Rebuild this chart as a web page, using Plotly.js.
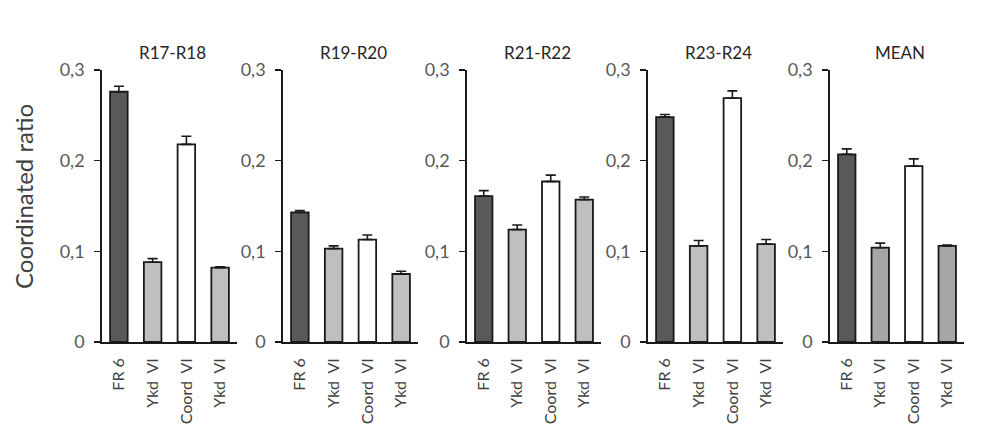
<!DOCTYPE html>
<html>
<head>
<meta charset="utf-8">
<script src="https://cdn.plot.ly/plotly-3.0.1.min.js"></script>
<style>html,body{margin:0;padding:0;background:#fff;}#chart{width:984px;height:448px;}</style>
</head>
<body>
<div id="chart"></div>
<script>
// ---- data ----
const panelTitles = ['R17-R18', 'R19-R20', 'R21-R22', 'R23-R24', 'MEAN'];
const categories = ['FR 6', 'Ykd\u00a0\u00a0VI', 'Coord\u00a0\u00a0VI', 'Ykd\u00a0\u00a0VI'];
const yTickValues = [0, 0.1, 0.2, 0.3];
const yTickLabels = ['0', '0,1', '0,2', '0,3'];
const yTitle = 'Coordinated ratio';

const r17r18 = [0.276, 0.088, 0.218, 0.082];
const r17r18Err = [0.006, 0.004, 0.009, 0.001];
const r19r20 = [0.143, 0.103, 0.113, 0.075];
const r19r20Err = [0.002, 0.003, 0.005, 0.003];
const r21r22 = [0.161, 0.124, 0.177, 0.157];
const r21r22Err = [0.006, 0.005, 0.007, 0.003];
const r23r24 = [0.248, 0.106, 0.269, 0.108];
const r23r24Err = [0.003, 0.006, 0.008, 0.005];
const meanVals = [0.207, 0.104, 0.194, 0.106];
const meanErr = [0.006, 0.005, 0.008, 0.001];

const series = [r17r18, r19r20, r21r22, r23r24, meanVals];
const errors = [r17r18Err, r19r20Err, r21r22Err, r23r24Err, meanErr];

// ---- styles ----
const W = 984, H = 448;
const panelPx = [[102, 237], [283, 418], [467, 601], [648, 783], [830, 964]];
const yBottomPx = 342, yTopPx = 70;
const barColors = ['#595959', '#bfbfbf', '#ffffff', '#bfbfbf'];
const meanColors = ['#595959', '#a6a6a6', '#ffffff', '#a6a6a6'];
const font = 'Lato, Open Sans, sans-serif';
const lineCol = '#1a1a1a';

const xIdx = categories.map((c, i) => i);
const traces = [];
const layout = {
  width: W, height: H,
  margin: {l: 0, r: 0, t: 0, b: 0},
  paper_bgcolor: '#fff', plot_bgcolor: 'rgba(0,0,0,0)',
  showlegend: false,
  font: {family: font, color: '#595959'},
  annotations: []
};
const yDom = [(H - yBottomPx) / H, (H - yTopPx) / H];

series.forEach((vals, p) => {
  const sfx = p === 0 ? '' : String(p + 1);
  traces.push({
    type: 'bar',
    x: xIdx,
    y: vals,
    width: 0.52,
    xaxis: 'x' + sfx,
    yaxis: 'y' + sfx,
    marker: {color: p === 4 ? meanColors : barColors, line: {color: lineCol, width: 1.8}},
    error_y: {type: 'data', symmetric: false, array: errors[p], arrayminus: vals.map(() => 0),
              color: lineCol, thickness: 1.6, width: 5},
    hoverinfo: 'none'
  });
  const xd = [panelPx[p][0] / W, panelPx[p][1] / W];
  layout['xaxis' + sfx] = {
    domain: xd, anchor: 'y' + sfx, range: [-0.5, 3.5], fixedrange: true,
    tickmode: 'array', tickvals: xIdx, ticktext: categories, tickangle: -90,
    ticks: '', showgrid: false, zeroline: false,
    showline: true, linecolor: lineCol, linewidth: 1.8,
    ticklabelstandoff: 8,
    tickfont: {family: font, size: 16, color: '#404040'}
  };
  layout['yaxis' + sfx] = {
    domain: yDom, anchor: 'x' + sfx, range: [0, 0.3], fixedrange: true,
    tickmode: 'array', tickvals: yTickValues, ticktext: yTickLabels,
    ticks: 'outside', ticklen: 6, tickwidth: 1.6, tickcolor: lineCol,
    showgrid: false, zeroline: false,
    showline: true, linecolor: lineCol, linewidth: 1.8,
    ticklabelstandoff: 6,
    tickfont: {family: font, size: 18, color: '#595959'}
  };
  layout.annotations.push({
    text: panelTitles[p], xref: 'paper', yref: 'paper',
    x: (panelPx[p][0] + panelPx[p][1]) / 2 / W + 3 / W, y: (H - 52) / H,
    xanchor: 'center', yanchor: 'middle', showarrow: false,
    font: {family: font, size: 17, color: '#262626'}
  });
});

layout.annotations.push({
  text: yTitle, xref: 'paper', yref: 'paper',
  x: 23 / W, y: (H - 197) / H, textangle: -90,
  xanchor: 'center', yanchor: 'middle', showarrow: false,
  font: {family: font, size: 24, color: '#404040'}
});

Plotly.newPlot('chart', traces, layout, {displayModeBar: false, staticPlot: true});
</script>
</body>
</html>
